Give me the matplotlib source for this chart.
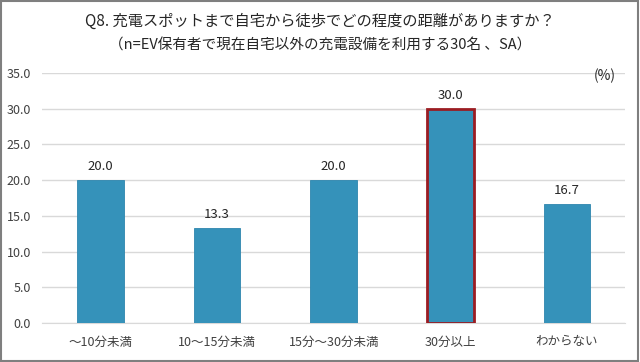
import matplotlib
matplotlib.use('Agg')
from matplotlib import pyplot as plt
from matplotlib.patches import Rectangle

plt.rcParams['font.family'] = ['Noto Sans CJK JP', 'DejaVu Sans']

# データ
categories = ['～10分未満', '10～15分未満', '15分～30分未満', '30分以上', 'わからない']
values = [20.0, 13.3, 20.0, 30.0, 16.7]
highlight = 3
yticks = [0, 5, 10, 15, 20, 25, 30, 35]

fig = plt.figure(figsize=(6.4, 3.62), dpi=100)
ax = fig.add_axes([0.066, 0.108, 0.911, 0.69])

edges = ['#9B1C22' if i == highlight else '#2E86AE' for i in range(len(values))]
lws = [2.0 if i == highlight else 0.6 for i in range(len(values))]
bars = ax.bar(range(len(values)), values, width=0.40, color='#3592BA',
              edgecolor=edges, linewidth=lws, zorder=3)

for i, v in enumerate(values):
    ax.text(i, v + 1.0, f'{v:.1f}', ha='center', va='bottom', fontsize=9.5, color='#262626')

ax.set_ylim(0, 35)
ax.set_xlim(-0.5, len(values) - 0.5)
ax.set_yticks(yticks)
ax.set_yticklabels([f'{t:.1f}' for t in yticks])
ax.set_xticks(range(len(values)))
ax.set_xticklabels(categories)
ax.tick_params(axis='both', length=0, labelsize=9, colors='#404040')
ax.tick_params(axis='x', pad=9)
ax.tick_params(axis='y', pad=8)
ax.grid(axis='y', color='#D9D9D9', linewidth=1.0, zorder=0)
for s in ['top', 'right', 'left']:
    ax.spines[s].set_visible(False)
ax.spines['bottom'].set_color('#D9D9D9')

fig.text(0.5, 0.94, 'Q8. 充電スポットまで自宅から徒歩でどの程度の距離がありますか？',
         ha='center', va='center', fontsize=11, color='#262626')
fig.text(0.5, 0.875, '（n=EV保有者で現在自宅以外の充電設備を利用する30名 、SA）',
         ha='center', va='center', fontsize=10.5, color='#262626')
fig.text(0.945, 0.79, '(%)', ha='center', va='center', fontsize=10, color='#262626')

fig.patches.append(Rectangle((0.002, 0.004), 0.995, 0.992, transform=fig.transFigure,
                             fill=False, edgecolor='#7F7F7F', linewidth=1.5))

fig.savefig('out.png', dpi=100)
